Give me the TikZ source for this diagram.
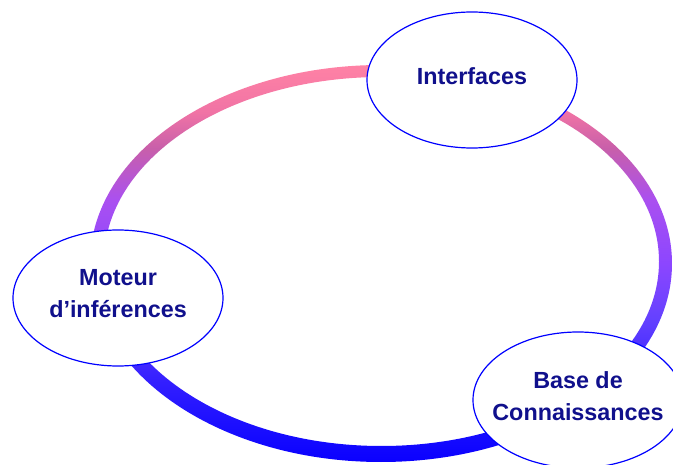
\documentclass[tikz,border=0pt]{standalone}
\usepackage{fontspec}
\setmainfont{Liberation Sans}
\usetikzlibrary{shapes}
\definecolor{textblue}{RGB}{16,16,140}
\definecolor{ringA}{RGB}{255,130,165}
\definecolor{ringB}{RGB}{240,115,165}
\definecolor{ringC}{RGB}{200,95,170}
\definecolor{ringD}{RGB}{170,80,240}
\definecolor{ringE}{RGB}{140,70,255}
\definecolor{ringF}{RGB}{100,65,255}
\definecolor{ringG}{RGB}{50,30,255}
\definecolor{ringH}{RGB}{20,10,255}
\definecolor{ringI}{RGB}{10,0,255}
\pgfdeclareverticalshading{ringshade}{100bp}{color(0bp)=(ringI); color(25bp)=(ringI);
  color(28bp)=(ringH); color(35bp)=(ringG); color(43bp)=(ringF); color(50bp)=(ringE);
  color(58bp)=(ringD); color(64.5bp)=(ringC); color(69bp)=(ringB); color(75bp)=(ringA); color(100bp)=(ringA)}
\tikzstyle{module}=[ellipse,draw=blue,line width=0.85pt,fill=white,minimum width=5.25cm,minimum height=3.4cm,inner sep=0pt]
\tikzstyle{modtext}=[align=center,text=textblue,yshift=3pt,font=\bfseries\fontsize{16.6}{22.7}\selectfont]
\tikzstyle{ring}=[shading=ringshade,even odd rule]

\begin{document}
\begin{tikzpicture}

    \useasboundingbox (0,0) rectangle (16.825,11.6);

    % anneau en degrade
    \shade[ring] (9.525,5.0125) ellipse (7.275cm and 4.9625cm)
                 (9.5375,5.0625) ellipse (6.9375cm and 4.6125cm);

    \foreach \x/\y/\name/\txt in {11.8/9.6/interf/{Interfaces}, 2.95/4.15/moteur/{Moteur\\d’inférences}, 14.45/1.6/base/{Base de\\Connaissances}}
        \node[module, label={[modtext]center:\txt}] (\name) at (\x,\y) {};

\end{tikzpicture}
\end{document}
